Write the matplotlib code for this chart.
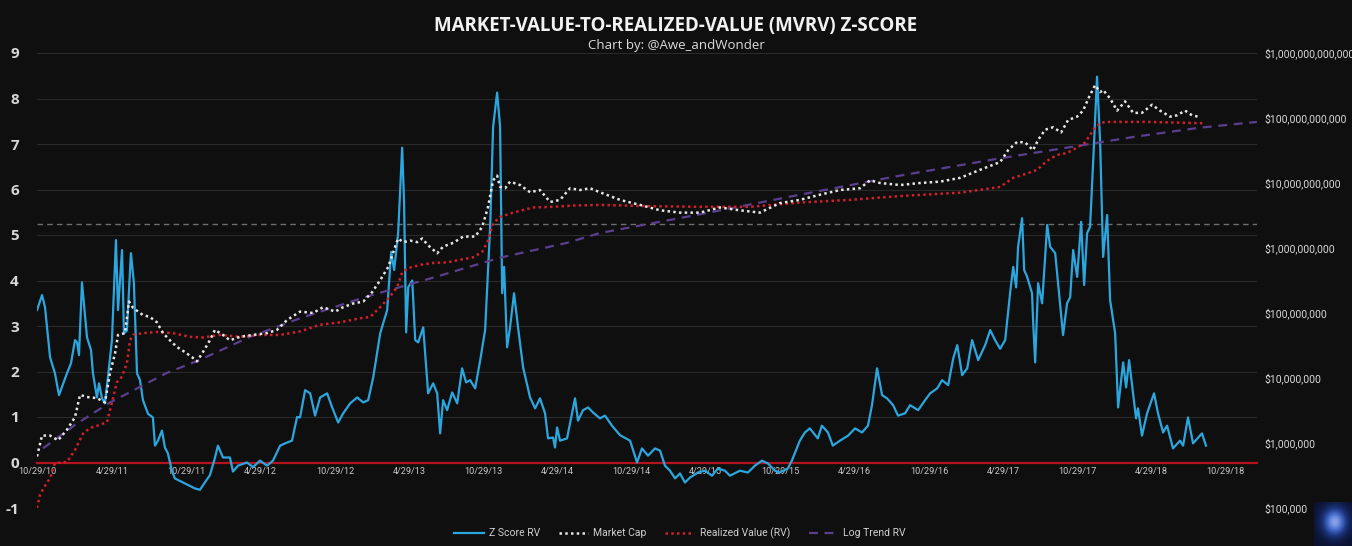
import matplotlib
matplotlib.use("Agg")
import matplotlib.pyplot as plt
import matplotlib.dates as mdates
from matplotlib.ticker import FuncFormatter, NullLocator, FixedLocator
from matplotlib.lines import Line2D
from matplotlib.colors import LinearSegmentedColormap
import numpy as np
import pandas as pd

plt.rcParams["axes.unicode_minus"] = False

# ---- data (x = decimal year) ----
z_year = [2010.819, 2010.853, 2010.873, 2010.907, 2010.940, 2010.967, 2011.021, 2011.048, 2011.075, 2011.089,
          2011.102, 2011.122, 2011.156, 2011.183, 2011.196, 2011.223, 2011.237, 2011.257, 2011.277, 2011.297,
          2011.324, 2011.351, 2011.365, 2011.392, 2011.405, 2011.425, 2011.452, 2011.472, 2011.493, 2011.513,
          2011.533, 2011.567, 2011.600, 2011.614, 2011.634, 2011.661, 2011.681, 2011.701, 2011.728, 2011.748,
          2011.816, 2011.883, 2011.917, 2011.950, 2011.984, 2012.018, 2012.038, 2012.072, 2012.119, 2012.139,
          2012.173, 2012.233, 2012.274, 2012.321, 2012.368, 2012.408, 2012.456, 2012.489, 2012.536, 2012.570,
          2012.590, 2012.624, 2012.658, 2012.691, 2012.725, 2012.772, 2012.806, 2012.846, 2012.880, 2012.927,
          2012.974, 2013.015, 2013.048, 2013.082, 2013.129, 2013.176, 2013.203, 2013.223, 2013.250, 2013.277,
          2013.290, 2013.304, 2013.318, 2013.345, 2013.365, 2013.385, 2013.419, 2013.452, 2013.486, 2013.513,
          2013.533, 2013.553, 2013.580, 2013.614, 2013.648, 2013.681, 2013.708, 2013.735, 2013.769, 2013.803,
          2013.836, 2013.870, 2013.890, 2013.917, 2013.937, 2013.951, 2013.964, 2013.984, 2014.004, 2014.031,
          2014.058, 2014.092, 2014.139, 2014.173, 2014.206, 2014.240, 2014.260, 2014.294, 2014.307, 2014.321,
          2014.341, 2014.388, 2014.422, 2014.442, 2014.462, 2014.496, 2014.530, 2014.563, 2014.610, 2014.644,
          2014.691, 2014.745, 2014.813, 2014.860, 2014.893, 2014.934, 2014.981, 2015.015, 2015.048, 2015.082,
          2015.116, 2015.149, 2015.183, 2015.217, 2015.270, 2015.318, 2015.365, 2015.405, 2015.452, 2015.486,
          2015.553, 2015.607, 2015.654, 2015.701, 2015.742, 2015.789, 2015.822, 2015.876, 2015.903, 2015.957,
          2015.991, 2016.024, 2016.078, 2016.105, 2016.146, 2016.179, 2016.227, 2016.281, 2016.328, 2016.375,
          2016.415, 2016.442, 2016.476, 2016.510, 2016.543, 2016.584, 2016.617, 2016.664, 2016.698, 2016.752,
          2016.799, 2016.833, 2016.880, 2016.913, 2016.954, 2016.988, 2017.015, 2017.048, 2017.082, 2017.115,
          2017.156, 2017.203, 2017.237, 2017.270, 2017.304, 2017.338, 2017.371, 2017.392, 2017.412, 2017.425,
          2017.452, 2017.466, 2017.486, 2017.519, 2017.526, 2017.540, 2017.560, 2017.587, 2017.621, 2017.641,
          2017.675, 2017.701, 2017.728, 2017.755, 2017.776, 2017.796, 2017.823, 2017.850, 2017.870, 2017.890,
          2017.910, 2017.937, 2017.957, 2017.978, 2017.998, 2018.025, 2018.045, 2018.079, 2018.099, 2018.133,
          2018.153, 2018.173, 2018.200, 2018.220, 2018.233, 2018.260, 2018.294, 2018.341, 2018.368, 2018.402,
          2018.429, 2018.469, 2018.516, 2018.537, 2018.570, 2018.604, 2018.664, 2018.691]
z_score = [3.35, 3.68, 3.41, 2.31, 1.96, 1.48, 1.96, 2.18, 2.69, 2.64,
           2.36, 3.96, 2.75, 2.47, 1.96, 1.43, 1.74, 1.41, 1.30, 1.87,
           2.69, 4.89, 3.35, 4.67, 2.84, 2.90, 4.60, 3.94, 1.96, 1.81,
           1.37, 1.07, 0.99, 0.37, 0.48, 0.70, 0.33, 0.20, -0.18, -0.35,
           -0.46, -0.57, -0.60, -0.44, -0.28, 0.10, 0.37, 0.11, 0.11, -0.20,
           -0.07, 0.00, -0.10, 0.04, -0.07, 0.04, 0.37, 0.42, 0.48, 1.00,
           0.99, 1.59, 1.52, 1.03, 1.43, 1.52, 1.21, 0.88, 1.08, 1.30,
           1.43, 1.32, 1.37, 1.87, 2.84, 3.35, 4.63, 4.23, 5.04, 6.92,
           5.70, 2.86, 3.85, 4.00, 2.69, 2.64, 2.97, 1.52, 1.74, 1.52,
           0.64, 1.37, 1.15, 1.54, 1.30, 2.07, 1.76, 1.81, 1.63, 2.25,
           2.91, 5.18, 7.38, 8.13, 7.38, 3.72, 4.30, 2.53, 2.97, 3.72,
           2.97, 2.09, 1.43, 1.19, 1.41, 1.08, 0.53, 0.55, 0.33, 0.77,
           0.48, 0.53, 1.08, 1.41, 0.92, 1.15, 1.21, 1.10, 0.97, 1.03,
           0.81, 0.60, 0.48, 0.00, 0.31, 0.15, 0.31, 0.26, -0.07, -0.18,
           -0.35, -0.24, -0.44, -0.33, -0.22, -0.18, -0.29, -0.13, -0.18, -0.29,
           -0.18, -0.22, -0.07, 0.04, -0.02, -0.18, -0.22, -0.13, 0.04, 0.48,
           0.66, 0.75, 0.53, 0.81, 0.66, 0.37, 0.48, 0.59, 0.75, 0.66,
           0.81, 1.26, 2.07, 1.48, 1.41, 1.26, 1.03, 1.08, 1.26, 1.15,
           1.37, 1.52, 1.63, 1.81, 1.70, 2.29, 2.58, 1.92, 2.07, 2.69,
           2.25, 2.58, 2.91, 2.69, 2.50, 2.69, 3.72, 4.30, 3.85, 4.74,
           5.37, 4.23, 4.08, 3.72, 3.13, 2.20, 3.94, 3.50, 5.22, 4.74,
           4.60, 3.72, 2.80, 3.50, 3.63, 4.67, 4.08, 5.29, 3.90, 5.04,
           5.18, 7.03, 8.48, 7.03, 4.52, 5.44, 3.57, 2.84, 1.21, 2.20,
           1.65, 2.25, 1.52, 0.97, 1.19, 0.59, 1.08, 1.52, 1.08, 0.66,
           0.81, 0.31, 0.48, 0.37, 0.99, 0.42, 0.64, 0.37]

mc_year = [2010.819, 2010.853, 2010.907, 2010.961, 2011.021, 2011.075, 2011.109, 2011.156, 2011.223, 2011.277,
           2011.311, 2011.345, 2011.365, 2011.412, 2011.439, 2011.466, 2011.533, 2011.580, 2011.627, 2011.668,
           2011.715, 2011.762, 2011.816, 2011.863, 2011.897, 2011.937, 2011.984, 2012.018, 2012.072, 2012.119,
           2012.186, 2012.274, 2012.368, 2012.435, 2012.503, 2012.590, 2012.678, 2012.745, 2012.826, 2012.880,
           2012.947, 2013.015, 2013.075, 2013.129, 2013.183, 2013.230, 2013.250, 2013.284, 2013.331, 2013.378,
           2013.412, 2013.452, 2013.513, 2013.553, 2013.621, 2013.688, 2013.769, 2013.816, 2013.856, 2013.890,
           2013.917, 2013.937, 2013.971, 2014.004, 2014.072, 2014.139, 2014.206, 2014.274, 2014.341, 2014.408,
           2014.476, 2014.543, 2014.610, 2014.745, 2014.880, 2015.015, 2015.149, 2015.284, 2015.419, 2015.553,
           2015.688, 2015.822, 2015.957, 2016.092, 2016.227, 2016.361, 2016.429, 2016.496, 2016.631, 2016.765,
           2016.900, 2017.035, 2017.170, 2017.304, 2017.358, 2017.419, 2017.473, 2017.526, 2017.560, 2017.607,
           2017.661, 2017.715, 2017.762, 2017.823, 2017.863, 2017.903, 2017.944, 2017.978, 2017.998, 2018.045,
           2018.092, 2018.146, 2018.200, 2018.260, 2018.328, 2018.381, 2018.449, 2018.496, 2018.550, 2018.597,
           2018.637]
market_cap = [6.2e5, 1.3e6, 1.3e6, 1.1e6, 1.6e6, 2.5e6, 5.5e6, 5.1e6, 4.9e6, 4.2e6,
              1.2e7, 2.4e7, 4.6e7, 4.9e7, 1.5e8, 1.2e8, 9.3e7, 8.7e7, 7.2e7, 4.9e7,
              3.8e7, 3.0e7, 2.5e7, 2.1e7, 1.8e7, 2.5e7, 3.8e7, 5.5e7, 4.6e7, 3.8e7,
              4.3e7, 4.6e7, 4.9e7, 5.5e7, 7.8e7, 1.05e8, 1.0e8, 1.23e8, 1.05e8, 1.23e8,
              1.4e8, 1.5e8, 2.1e8, 3.2e8, 5.1e8, 1.05e9, 1.4e9, 1.23e9, 1.3e9, 1.23e9,
              1.4e9, 1.1e9, 8.3e8, 1.05e9, 1.2e9, 1.5e9, 1.5e9, 2.1e9, 4.3e9, 1.1e10,
              1.3e10, 8.7e9, 8.3e9, 1.05e10, 9.3e9, 7.2e9, 7.8e9, 5.1e9, 5.5e9, 8.3e9,
              7.8e9, 8.3e9, 7.2e9, 5.5e9, 4.6e9, 3.8e9, 3.5e9, 3.5e9, 4.2e9, 3.8e9,
              3.5e9, 4.9e9, 5.5e9, 6.6e9, 7.8e9, 8.3e9, 1.1e10, 1.0e10, 9.3e9, 1.0e10,
              1.05e10, 1.2e10, 1.6e10, 2.1e10, 3.2e10, 4.3e10, 4.2e10, 3.2e10, 4.6e10, 6.6e10,
              7.2e10, 6.0e10, 9.3e10, 1.05e11, 1.3e11, 2.1e11, 3.2e11, 2.5e11, 2.7e11, 2.0e11,
              1.3e11, 1.8e11, 1.2e11, 1.2e11, 1.6e11, 1.3e11, 1.05e11, 1.1e11, 1.3e11, 1.1e11,
              1.05e11]

rv_year = [2010.819, 2010.839, 2010.873, 2010.907, 2010.940, 2011.021, 2011.075, 2011.129, 2011.176, 2011.243,
           2011.291, 2011.324, 2011.358, 2011.392, 2011.425, 2011.446, 2011.466, 2011.533, 2011.627, 2011.735,
           2011.850, 2011.937, 2012.052, 2012.186, 2012.321, 2012.456, 2012.590, 2012.725, 2012.860, 2012.994,
           2013.062, 2013.129, 2013.196, 2013.243, 2013.277, 2013.318, 2013.398, 2013.486, 2013.580, 2013.668,
           2013.755, 2013.816, 2013.856, 2013.890, 2013.937, 2014.025, 2014.159, 2014.294, 2014.429, 2014.610,
           2014.947, 2015.284, 2015.621, 2015.957, 2016.294, 2016.631, 2017.035, 2017.304, 2017.392, 2017.486,
           2017.553, 2017.621, 2017.688, 2017.755, 2017.823, 2017.876, 2017.910, 2017.944, 2017.978, 2018.011,
           2018.314, 2018.671]
realized_value = [1.0e5, 1.6e5, 2.2e5, 2.9e5, 4.9e5, 5.1e5, 7.8e5, 1.4e6, 1.7e6, 1.9e6,
                  2.1e6, 4.2e6, 8.7e6, 1.05e7, 1.7e7, 3.8e7, 4.6e7, 4.9e7, 5.1e7, 4.9e7,
                  4.3e7, 4.2e7, 4.6e7, 4.3e7, 4.6e7, 4.6e7, 5.2e7, 6.6e7, 7.2e7, 8.3e7,
                  8.7e7, 1.23e8, 1.8e8, 2.5e8, 4.2e8, 4.9e8, 5.5e8, 5.9e8, 6.0e8, 6.6e8,
                  7.2e8, 8.7e8, 1.3e9, 2.4e9, 3.0e9, 3.5e9, 4.2e9, 4.3e9, 4.5e9, 4.6e9,
                  4.4e9, 4.3e9, 4.3e9, 5.0e9, 5.5e9, 6.3e9, 7.1e9, 8.7e9, 1.2e10, 1.4e10,
                  1.6e10, 2.2e10, 2.7e10, 2.9e10, 3.5e10, 4.2e10, 5.5e10, 7.2e10, 8.3e10, 8.7e10,
                  8.7e10, 8.3e10]

trend_year = [2010.860, 2011.075, 2011.311, 2011.695, 2011.917, 2012.254, 2012.590, 2013.042, 2013.486, 2013.937,
              2014.388, 2014.610, 2015.284, 2015.957, 2016.631, 2017.304, 2017.755, 2018.200, 2018.651, 2019.035]
log_trend = [8.3e5, 1.9e6, 4.2e6, 1.2e7, 1.9e7, 4.3e7, 8.3e7, 1.8e8, 3.5e8, 7.1e8,
             1.2e9, 1.7e9, 3.3e9, 6.6e9, 1.3e10, 2.4e10, 3.5e10, 5.1e10, 7.1e10, 8.7e10]

z_threshold = 5.25
x_start, x_end = 2010.819, 2019.035
z_ticks = list(range(-1, 10))
date_ticks = ["2010-10-29", "2011-04-29", "2011-10-29", "2012-04-29", "2012-10-29", "2013-04-29",
              "2013-10-29", "2014-04-29", "2014-10-29", "2015-04-29", "2015-10-29", "2016-04-29",
              "2016-10-29", "2017-04-29", "2017-10-29", "2018-04-29", "2018-10-29"]


def to_date(y):
    yr = int(y)
    start = pd.Timestamp(yr, 1, 1)
    return start + (pd.Timestamp(yr + 1, 1, 1) - start) * (y - yr)


def dates(years):
    return [to_date(y) for y in years]


BG = "#0f0f0f"
BLUE = "#2ba6de"
RED = "#d0202a"
WHITE = "#e6e6e6"
PURPLE = "#5a3f8e"
TXT = "#d8d8d8"
NARROW = ["Roboto", "DejaVu Sans"]

fig = plt.figure(figsize=(13.52, 5.46), dpi=100, facecolor=BG)
ax = fig.add_axes([37 / 1352, 1 - 508 / 546, 1220 / 1352, 455 / 546])
ax.set_facecolor(BG)
ax2 = ax.twinx()

# primary axis: Z score
ax.plot(dates(z_year), z_score, color=BLUE, lw=1.6, zorder=3)
ax.axhline(z_threshold, color="#6e6e6e", lw=1.0, ls=(0, (4, 3)), zorder=2)
ax.set_ylim(-1, 9)
ax.set_xlim(to_date(x_start), to_date(x_end))
ax.yaxis.set_major_locator(FixedLocator(z_ticks))
for t in z_ticks:
    if t != 0:
        ax.axhline(t, color="#2a2a2a", lw=0.8, zorder=0)

for s in ["top", "right", "left"]:
    ax.spines[s].set_visible(False)
ax.spines["bottom"].set_position(("data", 0))
ax.spines["bottom"].set_color("#b3141d")
ax.spines["bottom"].set_linewidth(1.6)
ax.spines["bottom"].set_zorder(1)

ax.xaxis.set_major_locator(FixedLocator(mdates.date2num(pd.to_datetime(date_ticks))))
ax.xaxis.set_major_formatter(mdates.DateFormatter("%-m/%d/%y"))
ax.tick_params(axis="x", length=0, pad=3, labelsize=6.6, labelcolor="#c8c8c8")
for lab in ax.get_xticklabels():
    lab.set_family(NARROW)
ax.tick_params(axis="y", length=0, pad=13, labelsize=11, labelcolor=TXT)
for lab in ax.get_yticklabels():
    lab.set_family(["Open Sans", "DejaVu Sans"])
    lab.set_fontweight("bold")

# secondary axis: log dollar values
ax2.plot(dates(trend_year), log_trend, color=PURPLE, lw=1.6, ls=(0, (4, 3)), zorder=2)
ax2.plot(dates(rv_year), realized_value, color=RED, lw=1.8, ls=(0, (1, 1.3)), zorder=3)
ax2.plot(dates(mc_year), market_cap, color=WHITE, lw=1.8, ls=(0, (1, 1.3)), zorder=4)
ax2.set_yscale("log")
ax2.set_ylim(1e5, 1e12)
ax2.yaxis.set_major_locator(FixedLocator([10.0 ** k for k in range(5, 13)]))
ax2.yaxis.set_minor_locator(NullLocator())
ax2.yaxis.set_major_formatter(FuncFormatter(lambda v, p: "${:,.0f}".format(v)))
ax2.tick_params(axis="y", length=0, pad=5, labelsize=7.5, labelcolor=TXT)
for lab in ax2.get_yticklabels():
    lab.set_family(NARROW)
for s in ax2.spines.values():
    s.set_visible(False)

# titles
fig.text(0.5, 1 - 26 / 546, "MARKET-VALUE-TO-REALIZED-VALUE (MVRV) Z-SCORE", ha="center", va="center",
         fontsize=13.5, fontweight="bold", color="#f2f2f2", family=["Open Sans", "DejaVu Sans"])
fig.text(0.5, 1 - 45 / 546, "Chart by: @Awe_andWonder", ha="center", va="center",
         fontsize=9.5, color="#dcdcdc", family=["Open Sans", "DejaVu Sans"])

# legend
handles = [Line2D([], [], color=BLUE, lw=1.6),
           Line2D([], [], color=WHITE, lw=1.8, ls=(0, (1, 1.3))),
           Line2D([], [], color=RED, lw=1.8, ls=(0, (1, 1.3))),
           Line2D([], [], color=PURPLE, lw=1.6, ls=(0, (4, 3)))]
labels = ["Z Score RV", "Market Cap", "Realized Value (RV)", "Log Trend RV"]
leg = fig.legend(handles, labels, loc="center", bbox_to_anchor=(0.503, 1 - 533 / 546), ncol=4,
                 frameon=False, handlelength=2.8, handletextpad=0.5, columnspacing=1.8,
                 prop={"family": NARROW, "size": 7.5})
for t in leg.get_texts():
    t.set_color("#cfcfcf")

# small logo in the corner
logo = fig.add_axes([1314 / 1352, 0, 38 / 1352, 44 / 546])
gx, gy = np.meshgrid(np.linspace(-1, 1, 60), np.linspace(-1, 1, 60))
glow = np.exp(-((gx - 0.1) ** 2 + (gy + 0.1) ** 2) * 2.5)
nebula = LinearSegmentedColormap.from_list("nebula", ["#0b1230", "#1d3680", "#4a6fd0", "#9fb6ef"])
logo.imshow(glow, cmap=nebula, vmin=0, vmax=1.1, aspect="auto")
logo.axis("off")

fig.savefig("out.png", dpi=100, facecolor=BG)
